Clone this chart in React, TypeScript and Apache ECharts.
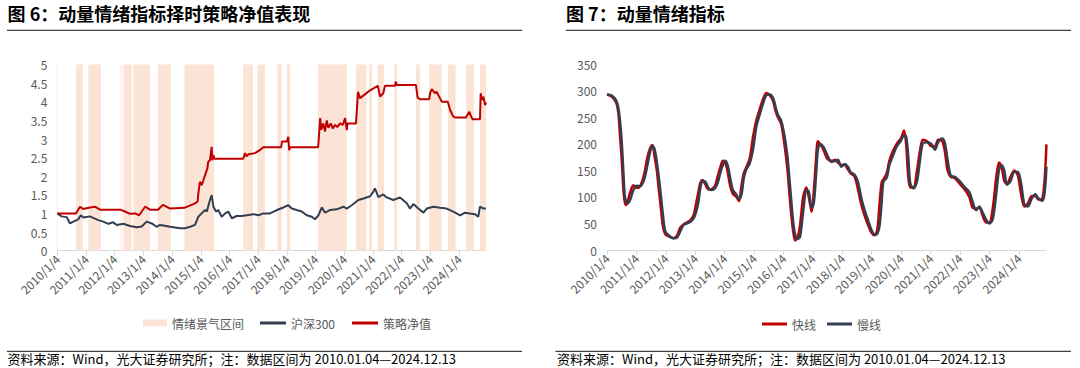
import React, { useEffect, useRef } from "react";
import * as echarts from "echarts";

// Time values are in years (2010.00 = 2010/1/4 on the axis)
const YEAR_TICKS = [2010, 2011, 2012, 2013, 2014, 2015, 2016, 2017, 2018, 2019, 2020, 2021, 2022, 2023, 2024];
const AXIS_START = 2010;
const AXIS_END = 2024.94; // 2024.12.13

// 情绪景气区间 (start, end)
const sentimentIntervals: [number, number][] = [
  [2010.0, 2010.02], [2010.65, 2010.89], [2011.08, 2011.52], [2012.21, 2012.24], [2012.3, 2012.59],
  [2012.65, 2013.23], [2013.5, 2013.96], [2014.43, 2015.46], [2016.48, 2016.82], [2016.97, 2017.24],
  [2017.67, 2017.82], [2018.0, 2018.12], [2019.09, 2020.09], [2020.41, 2020.78], [2020.87, 2020.97],
  [2021.16, 2021.39], [2021.74, 2021.84], [2022.5, 2022.64], [2022.96, 2023.4], [2023.61, 2023.88],
  [2024.25, 2024.52], [2024.73, 2024.94],
];

// 沪深300 (normalised)
const hs300: [number, number][] = [
  [2010.0, 1.0], [2010.15, 0.92], [2010.33, 0.9], [2010.44, 0.73], [2010.56, 0.78], [2010.73, 0.84],
  [2010.82, 0.95], [2010.91, 0.89], [2011.14, 0.92], [2011.25, 0.88], [2011.43, 0.82], [2011.6, 0.78],
  [2011.78, 0.72], [2011.95, 0.76], [2012.07, 0.69], [2012.3, 0.72], [2012.53, 0.66], [2012.77, 0.63],
  [2012.94, 0.65], [2013.12, 0.78], [2013.29, 0.73], [2013.46, 0.64], [2013.58, 0.69], [2013.75, 0.67],
  [2013.93, 0.64], [2014.28, 0.6], [2014.45, 0.6], [2014.63, 0.64], [2014.8, 0.69], [2014.915, 0.91],
  [2015.03, 1.0], [2015.15, 1.09], [2015.21, 1.05], [2015.32, 1.36], [2015.38, 1.49], [2015.44, 1.18],
  [2015.53, 1.05], [2015.61, 1.09], [2015.73, 0.91], [2015.85, 1.0], [2015.96, 1.05], [2016.08, 0.87],
  [2016.25, 0.93], [2016.43, 0.93], [2016.6, 0.95], [2016.83, 0.98], [2017.01, 0.95], [2017.18, 1.0],
  [2017.41, 1.0], [2017.65, 1.09], [2017.88, 1.16], [2018.05, 1.22], [2018.17, 1.13], [2018.34, 1.09],
  [2018.52, 1.05], [2018.69, 0.95], [2018.87, 0.91], [2018.98, 0.84], [2019.1, 0.95], [2019.22, 1.16],
  [2019.33, 1.02], [2019.5, 1.09], [2019.74, 1.11], [2019.97, 1.18], [2020.09, 1.13], [2020.26, 1.22],
  [2020.49, 1.36], [2020.67, 1.4], [2020.9, 1.46], [2021.01, 1.58], [2021.07, 1.67], [2021.19, 1.44],
  [2021.36, 1.51], [2021.48, 1.43], [2021.71, 1.36], [2021.945, 1.43], [2022.18, 1.27], [2022.29, 1.13],
  [2022.41, 1.25], [2022.58, 1.13], [2022.76, 1.02], [2022.875, 1.13], [2023.11, 1.18], [2023.34, 1.15],
  [2023.57, 1.13], [2023.8, 1.05], [2024.04, 0.95], [2024.21, 1.02], [2024.38, 1.0], [2024.555, 0.98],
  [2024.67, 0.91], [2024.73, 1.18], [2024.85, 1.13], [2024.94, 1.13],
];

// 策略净值
const strategyNav: [number, number][] = [
  [2010.0, 1.0], [2010.65, 1.0], [2010.79, 1.18], [2010.9, 1.12], [2011.14, 1.16], [2011.31, 1.18],
  [2011.49, 1.1], [2012.19, 1.1], [2012.36, 1.05], [2012.53, 0.99], [2012.71, 1.0], [2012.85, 0.95],
  [2013.06, 1.18], [2013.23, 1.1], [2013.51, 1.1], [2013.68, 1.23], [2013.93, 1.13], [2014.43, 1.15],
  [2014.8, 1.27], [2014.89, 1.32], [2014.915, 1.54], [2014.97, 1.85], [2015.03, 1.76], [2015.09, 1.89],
  [2015.15, 2.03], [2015.23, 2.21], [2015.26, 2.39], [2015.32, 2.43], [2015.38, 2.79], [2015.4, 2.43],
  [2015.44, 2.57], [2015.47, 2.47], [2016.48, 2.47], [2016.54, 2.62], [2016.6, 2.53], [2016.66, 2.59],
  [2016.89, 2.62], [2017.07, 2.71], [2017.18, 2.78], [2017.8, 2.78], [2017.83, 2.93], [2018.0, 2.93],
  [2018.05, 3.06], [2018.08, 2.7], [2018.12, 2.78], [2019.09, 2.78], [2019.12, 3.1], [2019.16, 3.56],
  [2019.2, 3.25], [2019.27, 3.42], [2019.33, 3.2], [2019.39, 3.5], [2019.445, 3.3], [2019.53, 3.42],
  [2019.6, 3.28], [2019.68, 3.38], [2019.76, 3.32], [2019.85, 3.42], [2019.95, 3.38], [2020.03, 3.56],
  [2020.09, 3.24], [2020.11, 3.42], [2020.41, 3.42], [2020.48, 4.27], [2020.55, 4.1], [2020.72, 4.2],
  [2020.9, 4.31], [2021.17, 4.43], [2021.25, 4.14], [2021.36, 4.23], [2021.42, 4.43], [2021.77, 4.43],
  [2021.795, 4.54], [2021.84, 4.45], [2022.5, 4.45], [2022.555, 4.11], [2022.64, 4.07], [2022.96, 4.07],
  [2022.99, 4.23], [2023.05, 4.34], [2023.16, 4.23], [2023.22, 4.27], [2023.28, 4.18], [2023.4, 4.0],
  [2023.61, 4.0], [2023.69, 3.78], [2023.8, 3.6], [2023.86, 3.58], [2024.25, 3.58], [2024.27, 3.62],
  [2024.36, 3.73], [2024.445, 3.56], [2024.48, 3.53], [2024.73, 3.53], [2024.755, 4.23], [2024.79, 4.05],
  [2024.85, 4.14], [2024.91, 3.91], [2024.94, 3.98],
];

// 快线
const fastLine: [number, number][] = [
  [2010.0, 293], [2010.16, 289], [2010.31, 278], [2010.385, 258], [2010.443, 215], [2010.5, 170],
  [2010.556, 115], [2010.6, 92], [2010.648, 85], [2010.705, 92], [2010.784, 108], [2010.897, 122],
  [2011.01, 117], [2011.125, 120], [2011.26, 142], [2011.375, 175], [2011.466, 192], [2011.545, 198],
  [2011.613, 178], [2011.694, 150], [2011.75, 120], [2011.83, 80], [2011.9, 45], [2011.98, 30],
  [2012.09, 26], [2012.26, 22], [2012.375, 27], [2012.49, 42], [2012.6, 48], [2012.72, 52], [2012.83, 56],
  [2012.94, 65], [2013.03, 88], [2013.11, 110], [2013.17, 126], [2013.25, 132], [2013.34, 124],
  [2013.45, 114], [2013.57, 115], [2013.68, 122], [2013.76, 138], [2013.85, 155], [2013.94, 168],
  [2014.02, 165], [2014.1, 148], [2014.19, 120], [2014.28, 106], [2014.4, 100], [2014.49, 92],
  [2014.57, 120], [2014.65, 145], [2014.73, 155], [2014.85, 172], [2014.97, 215], [2015.08, 245],
  [2015.19, 265], [2015.31, 285], [2015.42, 296], [2015.53, 292], [2015.65, 280], [2015.73, 262],
  [2015.81, 250], [2015.92, 238], [2016.03, 200], [2016.13, 155], [2016.19, 115], [2016.26, 70],
  [2016.33, 35], [2016.4, 18], [2016.47, 22], [2016.56, 45], [2016.67, 100], [2016.78, 118],
  [2016.86, 100], [2016.96, 72], [2017.03, 110], [2017.1, 165], [2017.17, 205], [2017.24, 200],
  [2017.35, 190], [2017.49, 172], [2017.63, 168], [2017.77, 170], [2017.85, 165], [2017.97, 160],
  [2018.08, 160], [2018.19, 152], [2018.28, 145], [2018.42, 138], [2018.53, 115], [2018.65, 85],
  [2018.76, 65], [2018.87, 48], [2018.99, 33], [2019.1, 28], [2019.195, 40], [2019.27, 90],
  [2019.34, 128], [2019.4, 133], [2019.51, 145], [2019.6, 168], [2019.71, 185], [2019.85, 200],
  [2019.99, 210], [2020.1, 225], [2020.17, 200], [2020.24, 140], [2020.31, 118], [2020.42, 118],
  [2020.54, 150], [2020.65, 190], [2020.74, 208], [2020.88, 205], [2021.04, 195], [2021.15, 195],
  [2021.26, 208], [2021.4, 205], [2021.49, 185], [2021.58, 150], [2021.69, 138], [2021.83, 135],
  [2021.99, 125], [2022.15, 115], [2022.32, 100], [2022.43, 80], [2022.55, 78], [2022.66, 80],
  [2022.77, 65], [2022.89, 52], [2023.0, 52], [2023.12, 80], [2023.23, 135], [2023.33, 165],
  [2023.42, 155], [2023.51, 130], [2023.6, 125], [2023.72, 138], [2023.85, 150], [2023.97, 140],
  [2024.08, 105], [2024.19, 82], [2024.31, 88], [2024.44, 102], [2024.56, 102], [2024.67, 95],
  [2024.79, 96], [2024.86, 120], [2024.91, 160], [2024.94, 199],
];

// 慢线
const slowLine: [number, number][] = [
  [2010.0, 293], [2010.16, 291], [2010.31, 282], [2010.385, 268], [2010.443, 243], [2010.5, 205],
  [2010.556, 149], [2010.6, 104], [2010.648, 91], [2010.705, 88], [2010.784, 94], [2010.897, 113],
  [2011.01, 121], [2011.125, 120], [2011.26, 132], [2011.375, 160], [2011.466, 185], [2011.545, 196],
  [2011.613, 191], [2011.694, 166], [2011.75, 142], [2011.83, 104], [2011.9, 67], [2011.98, 35],
  [2012.09, 28], [2012.26, 22], [2012.375, 23], [2012.49, 35], [2012.6, 47], [2012.72, 50], [2012.83, 53],
  [2012.94, 59], [2013.03, 72], [2013.11, 91], [2013.17, 116], [2013.25, 130], [2013.34, 129],
  [2013.45, 117], [2013.57, 113], [2013.68, 117], [2013.76, 126], [2013.85, 145], [2013.94, 160],
  [2014.02, 168], [2014.1, 160], [2014.19, 135], [2014.28, 113], [2014.4, 104], [2014.49, 96],
  [2014.57, 104], [2014.65, 135], [2014.73, 151], [2014.85, 163], [2014.97, 191], [2015.08, 233],
  [2015.19, 255], [2015.31, 277], [2015.42, 292], [2015.53, 293], [2015.65, 286], [2015.73, 270],
  [2015.81, 255], [2015.92, 244], [2016.03, 217], [2016.13, 179], [2016.19, 142], [2016.26, 97],
  [2016.33, 53], [2016.4, 28], [2016.47, 21], [2016.56, 24], [2016.67, 72], [2016.78, 113],
  [2016.86, 110], [2016.96, 79], [2017.03, 88], [2017.1, 135], [2017.17, 189], [2017.24, 200],
  [2017.35, 195], [2017.49, 179], [2017.63, 166], [2017.77, 168], [2017.85, 170], [2017.97, 157],
  [2018.08, 162], [2018.19, 157], [2018.28, 147], [2018.42, 142], [2018.53, 129], [2018.65, 97],
  [2018.76, 75], [2018.87, 57], [2018.99, 38], [2019.1, 29], [2019.195, 31], [2019.27, 47],
  [2019.34, 91], [2019.4, 129], [2019.51, 136], [2019.6, 160], [2019.71, 176], [2019.85, 195],
  [2019.99, 206], [2020.1, 216], [2020.17, 214], [2020.24, 179], [2020.31, 126], [2020.42, 116],
  [2020.54, 129], [2020.65, 173], [2020.74, 201], [2020.88, 203], [2021.04, 199], [2021.15, 189],
  [2021.26, 203], [2021.4, 210], [2021.49, 201], [2021.58, 170], [2021.69, 140], [2021.83, 138],
  [2021.99, 130], [2022.15, 119], [2022.32, 109], [2022.43, 91], [2022.55, 75], [2022.66, 82],
  [2022.77, 71], [2022.89, 57], [2023.0, 50], [2023.12, 59], [2023.23, 104], [2023.33, 151],
  [2023.42, 160], [2023.51, 149], [2023.6, 123], [2023.72, 130], [2023.85, 147], [2023.97, 147],
  [2024.08, 126], [2024.19, 86], [2024.31, 82], [2024.44, 97], [2024.56, 105], [2024.67, 97],
  [2024.79, 93], [2024.86, 101], [2024.91, 126], [2024.94, 157],
];

const LEFT_TITLE = "图 6：动量情绪指标择时策略净值表现";
const RIGHT_TITLE = "图 7：动量情绪指标";
const SOURCE = "资料来源：Wind，光大证券研究所；注：数据区间为 2010.01.04—2024.12.13";

const FONT = '"Noto Sans CJK SC", "Noto Sans", sans-serif';
const RED = "#C00000";
const NAVY = "#333F50";
const SHADE = "#FBE4D5";
const GRAY = "#595959";
const AXIS_GRAY = "#D9D9D9";

function xAxisFor(gridIndex: number) {
  return {
    type: "value",
    gridIndex,
    min: AXIS_START,
    max: AXIS_END,
    interval: 1,
    axisLine: { show: true, lineStyle: { color: AXIS_GRAY, width: 1 } },
    axisTick: { show: true, length: 5, lineStyle: { color: AXIS_GRAY }, customValues: YEAR_TICKS },
    axisLabel: {
      rotate: 45,
      color: GRAY,
      fontSize: 12,
      fontFamily: FONT,
      margin: 6,
      customValues: YEAR_TICKS,
      formatter: (v: number) => (Number.isInteger(v) ? `${v}/1/4` : ""),
    },
    splitLine: { show: false },
  };
}

function yAxisFor(gridIndex: number, max: number, interval: number) {
  return {
    type: "value",
    gridIndex,
    min: 0,
    max,
    interval,
    axisLine: { show: false },
    axisTick: { show: false },
    splitLine: { show: false },
    axisLabel: { color: GRAY, fontSize: 12, fontFamily: FONT, margin: 10 },
  };
}

const legendText = { color: GRAY, fontSize: 12, fontFamily: FONT };
const flatIcon = { itemStyle: { borderWidth: 0 }, lineStyle: { width: 0 } };

export default function App() {
  const ref = useRef<HTMLDivElement>(null);

  useEffect(() => {
    if (!ref.current) return;
    const chart = echarts.init(ref.current, undefined, { renderer: "svg" });
    const option: any = {
      animation: false,
      backgroundColor: "#ffffff",
      textStyle: { fontFamily: FONT },
      grid: [
        { left: 57.3, top: 64.6, width: 428.7, height: 186, containLabel: false },
        { left: 607, top: 64.3, width: 439.4, height: 185.7, containLabel: false },
      ],
      xAxis: [xAxisFor(0), xAxisFor(1)],
      yAxis: [yAxisFor(0, 5, 0.5), yAxisFor(1, 350, 50)],
      legend: [
        {
          data: [{ name: "情绪景气区间", icon: "rect" }],
          left: 138,
          top: 312,
          itemWidth: 24,
          itemHeight: 7,
          textStyle: legendText,
          ...flatIcon,
        },
        {
          data: [
            { name: "沪深300", icon: "rect" },
            { name: "策略净值", icon: "rect" },
          ],
          left: 255,
          top: 312,
          itemWidth: 26,
          itemHeight: 3,
          itemGap: 17,
          textStyle: legendText,
          ...flatIcon,
        },
        {
          data: [
            { name: "快线", icon: "rect" },
            { name: "慢线", icon: "rect" },
          ],
          left: 757,
          top: 313,
          itemWidth: 25,
          itemHeight: 3,
          itemGap: 11,
          textStyle: legendText,
          ...flatIcon,
        },
      ],
      series: [
        {
          name: "情绪景气区间",
          type: "bar",
          xAxisIndex: 0,
          yAxisIndex: 0,
          data: [],
          itemStyle: { color: SHADE },
          z: 1,
          markArea: {
            silent: true,
            itemStyle: { color: SHADE },
            data: sentimentIntervals.map(([a, b]) => [{ xAxis: a }, { xAxis: b }]),
          },
        },
        {
          name: "沪深300",
          type: "line",
          xAxisIndex: 0,
          yAxisIndex: 0,
          data: hs300,
          symbol: "none",
          showSymbol: false,
          lineStyle: { color: NAVY, width: 2 },
          itemStyle: { color: NAVY },
          z: 3,
        },
        {
          name: "策略净值",
          type: "line",
          xAxisIndex: 0,
          yAxisIndex: 0,
          data: strategyNav,
          symbol: "none",
          showSymbol: false,
          lineStyle: { color: RED, width: 2 },
          itemStyle: { color: RED },
          z: 4,
        },
        {
          name: "快线",
          type: "line",
          xAxisIndex: 1,
          yAxisIndex: 1,
          data: fastLine,
          smooth: 0.3,
          symbol: "none",
          showSymbol: false,
          lineStyle: { color: RED, width: 2.5 },
          itemStyle: { color: RED },
          z: 3,
        },
        {
          name: "慢线",
          type: "line",
          xAxisIndex: 1,
          yAxisIndex: 1,
          data: slowLine,
          smooth: 0.3,
          symbol: "none",
          showSymbol: false,
          lineStyle: { color: NAVY, width: 2.5 },
          itemStyle: { color: NAVY },
          z: 4,
        },
      ],
      graphic: [
        { type: "text", left: 7.6, top: 4, style: { text: LEFT_TITLE, font: `bold 18px ${FONT}`, fill: "#000" } },
        { type: "text", left: 566, top: 4, style: { text: RIGHT_TITLE, font: `bold 18px ${FONT}`, fill: "#000" } },
        { type: "line", shape: { x1: 7, y1: 30.3, x2: 522, y2: 30.3 }, style: { stroke: "#404040", lineWidth: 1.3 } },
        { type: "line", shape: { x1: 566, y1: 30.3, x2: 1071, y2: 30.3 }, style: { stroke: "#404040", lineWidth: 1.3 } },
        { type: "line", shape: { x1: 7, y1: 351.4, x2: 522, y2: 351.4 }, style: { stroke: "#404040", lineWidth: 1.3 } },
        { type: "line", shape: { x1: 555.5, y1: 351.4, x2: 1071, y2: 351.4 }, style: { stroke: "#404040", lineWidth: 1.3 } },
        { type: "text", left: 7.6, top: 352, style: { text: SOURCE, font: `13px ${FONT}`, fill: "#000" } },
        { type: "text", left: 557, top: 352, style: { text: SOURCE, font: `13px ${FONT}`, fill: "#000" } },
      ],
    };
    chart.setOption(option);
    return () => chart.dispose();
  }, []);

  return (
    <div
      ref={ref}
      style={{ position: "absolute", left: 0, top: 0, width: 1080, height: 368, background: "#fff" }}
    />
  );
}
